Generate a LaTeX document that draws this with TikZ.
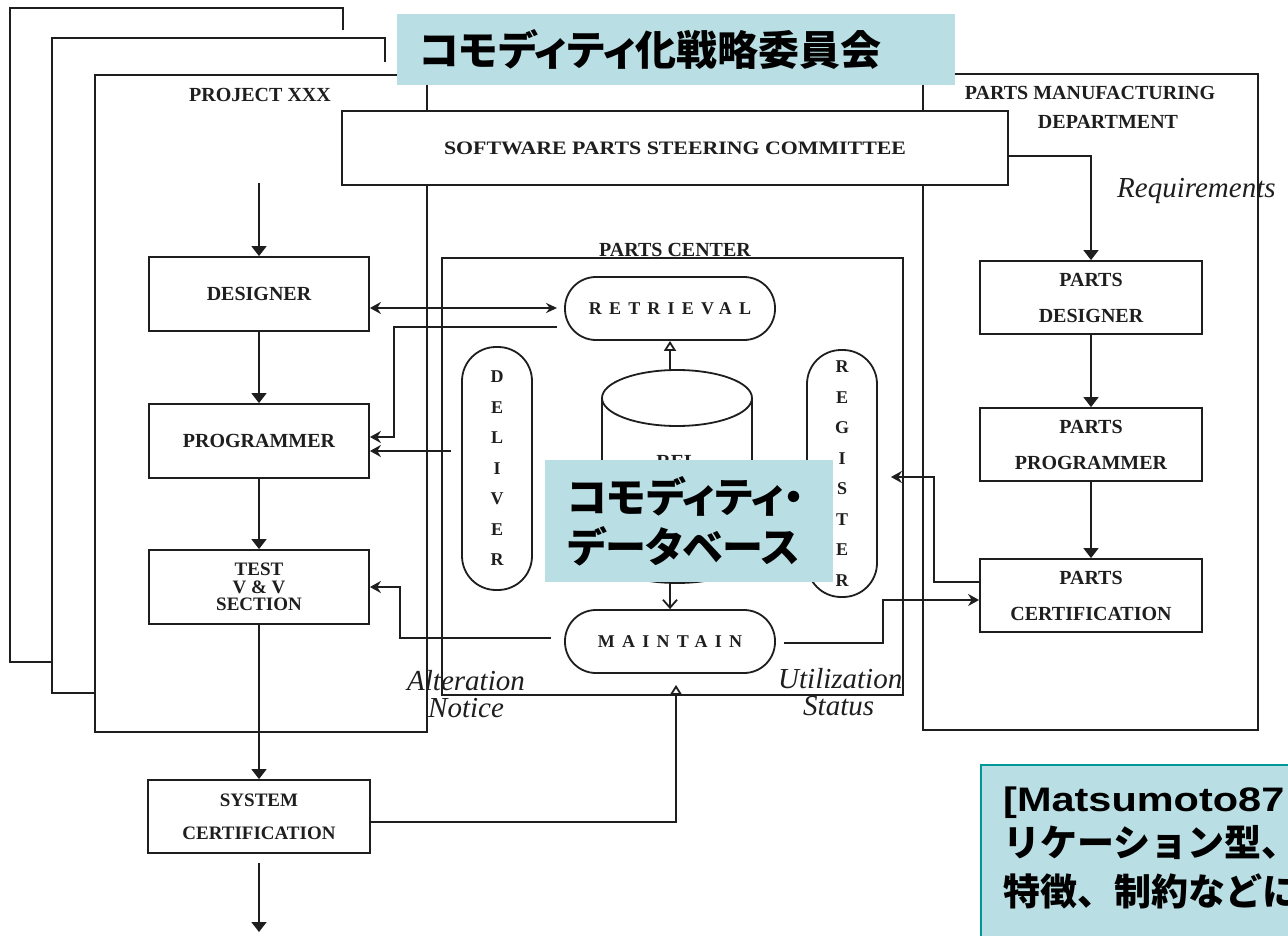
\documentclass[tikz,border=0pt]{standalone}
\usepackage{fontspec}
\setmainfont{Liberation Serif}
\newfontfamily\jpfont[RawFeature=+palt]{Noto Sans CJK JP}
\newfontfamily\jpfix{Noto Sans CJK JP}
\newfontfamily\arialfont{Liberation Sans}
\newfontfamily\spacedfont[LetterSpace=40]{Liberation Serif}
\usetikzlibrary{arrows.meta}
\newcommand{\fsz}[2]{\fontsize{#1}{#2}\selectfont}
\definecolor{paleblue}{RGB}{185,223,228}
\definecolor{tealline}{RGB}{0,153,153}
\definecolor{ink}{RGB}{30,30,30}
\tikzset{
 frame/.style={draw=ink, line width=2.2pt},
 ln/.style={draw=ink, line width=1.8pt},
 box/.style={draw=ink, line width=1.8pt, fill=white, inner sep=0pt, align=center, text=ink, font=\bfseries\fsz{20}{36}},
 pill/.style={draw=ink, line width=1.8pt, fill=white, rounded corners=31pt, minimum width=210pt, minimum height=63pt, inner sep=0pt, text=ink, font=\spacedfont\bfseries\fsz{18}{18}},
 vpill/.style={draw=ink, line width=1.8pt, fill=white, rounded corners=34pt, minimum width=70pt, inner sep=0pt, align=center, text=ink, font=\bfseries\fsz{18}{30.5}},
 lbl/.style={inner sep=0pt, font=\bfseries\fsz{20}{20}, text=ink},
 ital/.style={inner sep=0pt, font=\itshape\fsz{29}{29}, text=ink},
 bluebox/.style={fill=paleblue, inner ysep=0pt, font=\jpfont\bfseries\fsz{41}{50}, align=left},
 flow/.style={ln, -{Triangle[length=10pt,width=15pt]}},
 sarrow/.style={ln, -{Stealth[length=11pt,width=12pt]}},
 oarrow/.style={ln, -{Triangle[open,length=10pt,width=12pt]}}
}
\begin{document}
\begin{tikzpicture}[x=1pt,y=-1pt]
\useasboundingbox (0,0) rectangle (1288,936);
\clip (0,0) rectangle (1288,936);
% back frames of the stacked projects
\draw[frame] (343,30) -- (343,8) -- (10,8) -- (10,662) -- (52,662);
\draw[frame] (385,62) -- (385,38) -- (52,38) -- (52,693) -- (95,693);
% main frames
\node[frame, minimum width=332pt, minimum height=657pt, inner sep=0pt] (project) at (261,403.5) {};
\node[frame, minimum width=335pt, minimum height=656pt, inner sep=0pt] (mfg) at (1090.5,402) {};
\node[frame, minimum width=461pt, minimum height=437pt, inner sep=0pt] (center) at (672.5,476.5) {};
\node[lbl] (projlbl) at (260,95) {PROJECT XXX};
\node[lbl] (mfglbl1) at (1090,93) {PARTS MANUFACTURING};
\node[lbl] (mfglbl2) at (1108,122) {DEPARTMENT};
\node[lbl, anchor=base] (ctrlbl) at (675,256) {PARTS CENTER};
% steering committee
\node[box, minimum width=666pt, minimum height=74pt, font=\bfseries\fsz{19}{19}] (steer) at (675,148) {\scalebox{1.15}[1]{SOFTWARE PARTS STEERING COMMITTEE}};
% project boxes
\node[box, minimum width=220pt, minimum height=74pt] (des) at (259,294) {DESIGNER};
\node[box, minimum width=220pt, minimum height=74pt] (prog) at (259,441) {PROGRAMMER};
\node[box, minimum width=220pt, minimum height=74pt, font=\bfseries\fsz{19}{17.5}] (test) at (259,587) {TEST\\V \& V\\SECTION};
\node[box, minimum width=222pt, minimum height=73pt, font=\bfseries\fsz{19}{33}] (sys) at (259,816.5) {SYSTEM\\CERTIFICATION};
% parts department boxes
\node[box, minimum width=222pt, minimum height=73pt] (pdes) at (1091,297.5) {PARTS\\DESIGNER};
\node[box, minimum width=222pt, minimum height=73pt] (pprog) at (1091,444.5) {PARTS\\PROGRAMMER};
\node[box, minimum width=222pt, minimum height=73pt] (pcert) at (1091,595.5) {PARTS\\CERTIFICATION};
% parts center
\node[pill] (retr) at (670,308.5) {RETRIEVAL};
\node[pill] (maint) at (670,641.5) {MAINTAIN};
\node[vpill, minimum height=243pt] (deliv) at (497,468.5) {D\\E\\L\\I\\V\\E\\R};
\node[vpill, minimum height=247pt] (reg) at (842,473.5) {R\\E\\G\\I\\S\\T\\E\\R};
% database cylinder
\draw[ln, fill=white] (602,398) -- (602,555) arc[start angle=180, end angle=0, x radius=75, y radius=28] -- (752,398);
\draw[ln, fill=white] (677,398) ellipse [x radius=75, y radius=28];
\node[lbl] (dbtxt) at (677,462) {REL};
\coordinate (dbtop) at (670,370);
\coordinate (dbbot) at (670,582);
% connectors
\coordinate (pin) at (259,183);
\coordinate (pout) at (259,932);
\draw[flow] (pin) -- (des.north);
\draw[flow] (des.south) -- (prog.north);
\draw[flow] (prog.south) -- (test.north);
\draw[flow] (test.south) -- (sys.north);
\draw[flow, shorten <=9pt] (sys.south) -- (pout);
\coordinate (reqbend) at (1091,156);
\draw[flow] (steer.east |- reqbend) -| (pdes.north);
\draw[flow] (pdes.south) -- (pprog.north);
\draw[flow] (pprog.south) -- (pcert.north);
\coordinate (r1) at (0,308);
\draw[ln, {Stealth[length=11pt,width=12pt]}-{Stealth[length=11pt,width=10pt]}, shorten >=7pt] (des.east |- r1) -- (retr.west |- r1);
\coordinate (r2) at (557,327);
\coordinate (r2b) at (394,437);
\draw[sarrow] (r2) -| (r2b) -- (prog.east |- r2b);
\coordinate (d1) at (0,451);
\draw[sarrow, shorten <=10pt] (deliv.west |- d1) -- (prog.east |- d1);
\coordinate (m1) at (400,638);
\draw[sarrow, shorten <=13pt] (maint.west |- m1) -- (m1) |- (test.east);
\coordinate (s1) at (676,822);
\draw[oarrow, shorten >=11pt] (sys.east |- s1) -- (s1) -- (s1 |- maint.south);
\coordinate (m2) at (883,643);
\coordinate (m3) at (883,600);
\draw[sarrow, shorten <=8pt] (maint.east |- m2) -- (m2) -- (m3) -- (pcert.west |- m3);
\coordinate (c1) at (934,582);
\coordinate (c2) at (934,477);
\draw[sarrow, shorten >=13pt] (pcert.west |- c1) -- (c1) -- (c2) -- (reg.east |- c2);
\draw[oarrow] (dbtop) -- (retr.south);
\draw[ln, -{Straight Barb[length=8pt,width=14pt]}] (dbbot) -- (maint.north);
% italic labels
\node[ital, anchor=base west] (alt1) at (407,690) {Alteration};
\node[ital, anchor=base west] (alt2) at (428,717) {Notice};
\node[ital, anchor=base west] (util1) at (778,688) {Utilization};
\node[ital, anchor=base west] (util2) at (803,715) {Status};
\node[ital, anchor=base west] (reqlbl) at (1117,198) {Requirements};
% japanese overlays
\node[bluebox, anchor=north west, minimum width=288pt, minimum height=122pt, text width=244pt, inner xsep=22pt] (cdb) at (545,460) {コモディティ・\\データベース};
\node[bluebox, anchor=north west, minimum width=558pt, minimum height=71pt, text width=514pt, inner xsep=22pt] (title) at (397,14) {コモディティ化戦略委員会};
\node[draw=tealline, fill=paleblue, line width=1.5pt, anchor=north west, minimum width=340pt, minimum height=200pt] (refbox) at (980,764) {};
\node[anchor=base west, inner sep=0pt, font=\arialfont\bfseries\fsz{34}{34}] (ref1) at (1003,811) {\scalebox{1.22}[1]{[Matsumoto87}};
\node[anchor=base west, inner sep=0pt, font=\jpfix\bfseries\fsz{37}{37}] (ref2) at (1003,856) {リケーション型、};
\node[anchor=base west, inner sep=0pt, font=\jpfix\bfseries\fsz{37}{37}] (ref3) at (1003,905) {特徴、制約などに};
\end{tikzpicture}
\end{document}
